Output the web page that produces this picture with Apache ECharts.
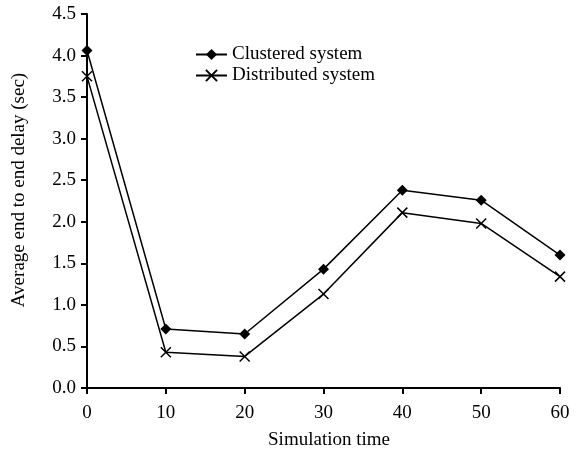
<!DOCTYPE html>
<html>
<head>
<meta charset="utf-8">
<script src="https://cdn.jsdelivr.net/npm/echarts@6/dist/echarts.min.js"></script>
<style>
  html, body { margin: 0; padding: 0; background: #fff; }
  #chart { width: 583px; height: 453px; }
</style>
</head>
<body>
<div id="chart"></div>
<script>
const simTime = [0, 10, 20, 30, 40, 50, 60]
const clustered = [4.06, 0.71, 0.65, 1.43, 2.38, 2.26, 1.60]
const distributed = [3.75, 0.43, 0.38, 1.13, 2.11, 1.98, 1.34]

const font = 'Liberation Serif'
const crossPath = 'path://M0,0L10,10M10,0L0,10'

const chart = echarts.init(document.getElementById('chart'))

const axisCommon = {
  axisLine: { show: true, lineStyle: { color: '#000', width: 2 } },
  axisTick: { show: true, inside: false, length: 6, lineStyle: { color: '#000', width: 2 } },
  axisLabel: { color: '#000', fontFamily: font, fontSize: 19 },
  splitLine: { show: false },
}

chart.setOption({
  animation: false,
  backgroundColor: '#fff',
  grid: { left: 87, right: 23, top: 14, bottom: 65, outerBoundsMode: 'none' },
  legend: {
    orient: 'vertical',
    left: 190,
    top: 40,
    itemWidth: 31,
    itemHeight: 14,
    itemGap: 2,
    textStyle: { color: '#000', fontFamily: font, fontSize: 19 },
    data: ['Clustered system', 'Distributed system'],
  },
  xAxis: {
    ...axisCommon,
    type: 'value',
    min: 0, max: 60, interval: 10,
    name: 'Simulation time',
    nameLocation: 'middle',
    nameGap: 43,
    nameTextStyle: { color: '#000', fontFamily: font, fontSize: 19, padding: [0, 0, 0, 11] },
    axisLabel: { ...axisCommon.axisLabel, margin: 16 },
  },
  yAxis: {
    ...axisCommon,
    type: 'value',
    min: 0, max: 4.5, interval: 0.5,
    name: 'Average end to end delay (sec)',
    nameLocation: 'middle',
    nameGap: 58,
    nameTextStyle: { color: '#000', fontFamily: font, fontSize: 19, padding: [0, 0, 0, 22] },
    axisLabel: { ...axisCommon.axisLabel, margin: 11, formatter: v => v.toFixed(1) },
  },
  series: [
    {
      name: 'Clustered system',
      type: 'line',
      data: simTime.map((t, i) => [t, clustered[i]]),
      symbol: 'diamond',
      symbolSize: 11,
      lineStyle: { color: '#000', width: 1.5 },
      itemStyle: { color: '#000' },
    },
    {
      name: 'Distributed system',
      type: 'line',
      data: simTime.map((t, i) => [t, distributed[i]]),
      symbol: crossPath,
      symbolSize: 10,
      lineStyle: { color: '#000', width: 1.5 },
      itemStyle: { color: 'transparent', borderColor: '#000', borderWidth: 1.5 },
    },
  ],
})
</script>
</body>
</html>
